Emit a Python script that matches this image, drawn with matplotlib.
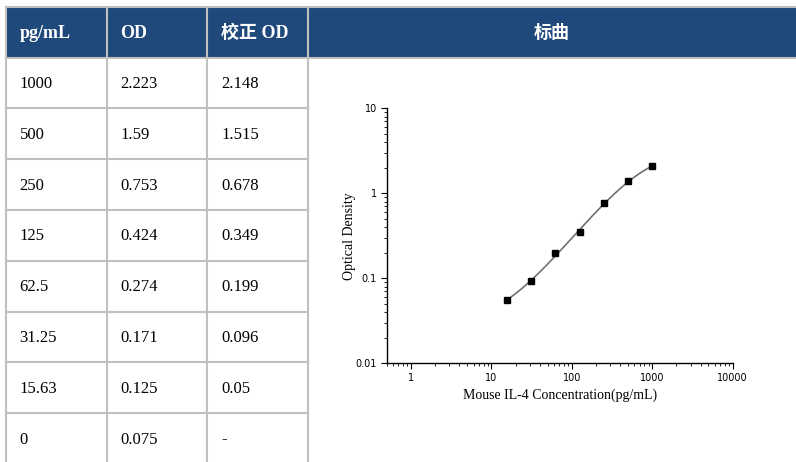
import matplotlib
matplotlib.use("Agg")
import matplotlib.pyplot as plt
import numpy as np
from matplotlib.ticker import LogLocator, FixedLocator, FixedFormatter, NullFormatter

# table data
header = ["pg/mL", "OD", "校正 OD", "标曲"]
conc_labels = ["1000", "500", "250", "125", "62.5", "31.25", "15.63", "0"]
od_labels = ["2.223", "1.59", "0.753", "0.424", "0.274", "0.171", "0.125", "0.075"]
odc_labels = ["2.148", "1.515", "0.678", "0.349", "0.199", "0.096", "0.05", "-"]

# standard curve points
curve_conc = [1000, 500, 250, 125, 62.5, 31.25, 15.63]
curve_od = [2.08, 1.38, 0.76, 0.348, 0.197, 0.092, 0.056]

W, H = 796, 462
fig = plt.figure(figsize=(W / 100, H / 100), dpi=100)

# background axes in pixel coords for the table
bg = fig.add_axes([0, 0, 1, 1])
bg.set_xlim(0, W)
bg.set_ylim(H, 0)
bg.axis("off")

col_x = [5.5, 106.5, 207, 307.5, 796]
head_top, head_bot = 6.5, 57.5
row_h = 50.8
grid_c = "#c0c0c0"
blue = "#20497b"
serif = ["Liberation Serif", "Noto Sans CJK SC"]

bg.add_patch(plt.Rectangle((col_x[0], head_top), W - col_x[0], head_bot - head_top,
                           facecolor=blue, edgecolor="none"))
bg.plot([col_x[0], W], [head_top, head_top], color=grid_c, lw=1.5)
bg.plot([col_x[0], W], [head_bot, head_bot], color=grid_c, lw=1.5)
for x in col_x[:4]:
    bg.plot([x, x], [head_top, H], color=grid_c, lw=1.5)

n = len(conc_labels)
for i in range(1, n):
    y = head_bot + i * row_h
    bg.plot([col_x[0], col_x[3]], [y, y], color=grid_c, lw=1.5)

pad = 14
hy = (head_top + head_bot) / 2 + 1
for j, h in enumerate(header[:3]):
    bg.text(col_x[j] + pad, hy, h, color="white", fontsize=13, fontweight="bold",
            family=serif, ha="left", va="center")
bg.text((col_x[3] + W) / 2, hy, header[3], color="white", fontsize=13, fontweight="bold",
        family=serif, ha="center", va="center")

for i in range(n):
    yc = head_bot + (i + 0.5) * row_h + 1
    for j, col in enumerate([conc_labels, od_labels, odc_labels]):
        bg.text(col_x[j] + pad, yc, col[i], color="black", fontsize=12,
                family=serif, ha="left", va="center")

# chart
x0, x1 = 386.7, 732.7
y_top, y_bot = 108.3, 363.3
ax = fig.add_axes([x0 / W, 1 - y_bot / H, (x1 - x0) / W, (y_bot - y_top) / H])
ax.set_xscale("log")
ax.set_yscale("log")
ax.set_xlim(0.5, 10000)
ax.set_ylim(0.01, 10)

# fitted curve (cubic in log-log space)
lx = np.log10(curve_conc)
ly = np.log10(curve_od)
coef = np.polyfit(lx, ly, 3)
xs = np.linspace(lx.min(), lx.max(), 200)
ax.plot(10 ** xs, 10 ** np.polyval(coef, xs), color="#707070", lw=1.2, zorder=2)
ax.plot(curve_conc, curve_od, linestyle="none", marker="s", markersize=4.5,
        color="black", zorder=3)

for s in ["top", "right"]:
    ax.spines[s].set_visible(False)
for s in ["left", "bottom"]:
    ax.spines[s].set_linewidth(1.0)

ax.xaxis.set_major_locator(FixedLocator([1, 10, 100, 1000, 10000]))
ax.xaxis.set_major_formatter(FixedFormatter(["1", "10", "100", "1000", "10000"]))
ax.yaxis.set_major_locator(FixedLocator([0.01, 0.1, 1, 10]))
ax.yaxis.set_major_formatter(FixedFormatter(["0.01", "0.1", "1", "10"]))
ax.xaxis.set_minor_locator(LogLocator(base=10, subs=np.arange(2, 10), numticks=20))
ax.yaxis.set_minor_locator(LogLocator(base=10, subs=np.arange(2, 10), numticks=20))
ax.xaxis.set_minor_formatter(NullFormatter())
ax.yaxis.set_minor_formatter(NullFormatter())
ax.tick_params(which="major", direction="out", length=4, width=0.8, labelsize=7, pad=3)
ax.tick_params(which="minor", direction="out", length=2, width=0.6)

ax.set_xlabel("Mouse IL-4 Concentration(pg/mL)", family="Liberation Serif", fontsize=10, labelpad=4)
ax.set_ylabel("Optical Density", family="Liberation Serif", fontsize=10, labelpad=0)

fig.savefig("out.png", dpi=100)
